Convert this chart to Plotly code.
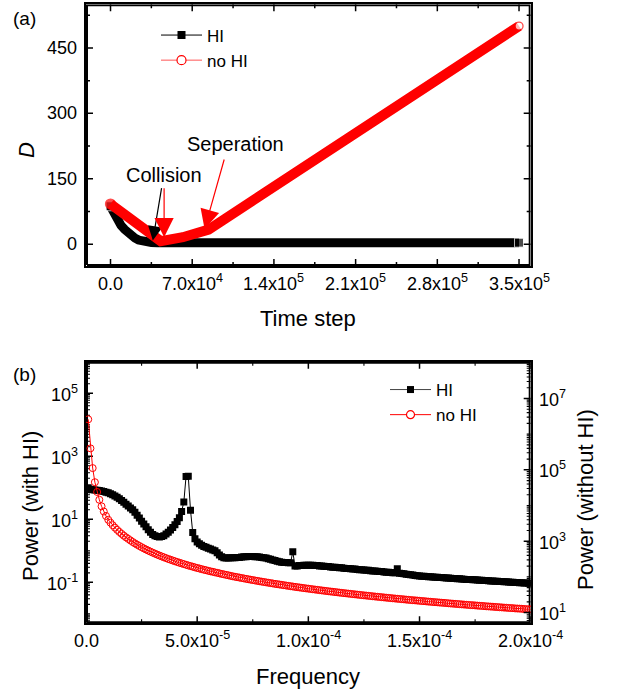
import math
import plotly.graph_objects as go

FONT = "Liberation Sans, Arial, sans-serif"

# ---------------- Panel (a) data ----------------
time_hi = [0, 3000, 6000, 9000, 12000, 15000, 18000, 21000, 24000, 27000, 30000, 35000, 40000, 350000]
d_hi = [87, 70, 54, 43, 34, 26, 19.5, 14, 9.5, 6.5, 4.8, 3.8, 3.5, 3.5]

time_nohi = [0, 43000, 62000, 76000, 84000, 350000]
d_nohi = [92, 7, 16, 24, 33.5, 500]

a_xticks = [0, 70000, 140000, 210000, 280000, 350000]
a_xticktext = ["0.0", "7.0x10<sup>4</sup>", "1.4x10<sup>5</sup>", "2.1x10<sup>5</sup>",
               "2.8x10<sup>5</sup>", "3.5x10<sup>5</sup>"]
a_xminor = [35000, 105000, 175000, 245000, 315000]
a_yticks = [0, 150, 300, 450]
a_yticktext = ["0", "150", "300", "450"]
a_yminor = [75, 225, 375, 525]

# ---------------- Panel (b) data ----------------
freq = [k * 1e-6 for k in range(1, 201)]

power_hi = [
    100, 89.1, 87.1, 85.1, 83.2, 81.3, 79.4, 75.9, 72.4, 69.2,
    64.6, 60.3, 55.0, 50.1, 44.7, 39.8, 34.7, 30.2, 26.3, 22.9,
    20.0, 16.6, 13.5, 11.0, 8.71, 7.08, 5.75, 4.68, 3.89, 3.31,
    3.02, 2.82, 2.75, 2.82, 3.02, 3.39, 3.89, 4.57, 5.50, 6.76,
    8.51, 11.2, 17.8, 35.5, 229, 234, 19.5, 3.80, 2.40, 1.91,
    1.66, 1.51, 1.38, 1.29, 1.20, 1.15, 1.07, 1.00, 0.871, 0.741,
    0.646, 0.603, 0.589, 0.589, 0.603, 0.603, 0.603, 0.617, 0.617, 0.631,
    0.646, 0.646, 0.661, 0.661, 0.661, 0.646, 0.646, 0.631, 0.617, 0.603,
    0.589, 0.562, 0.537, 0.513, 0.490, 0.468, 0.447, 0.437, 0.427, 0.427,
    0.417, 0.417, 0.933, 0.331, 0.331, 0.339, 0.339, 0.347, 0.347, 0.347,
    0.347, 0.347, 0.339, 0.339, 0.331, 0.331, 0.324, 0.316, 0.316, 0.309,
    0.302, 0.302, 0.295, 0.288, 0.288, 0.282, 0.275, 0.275, 0.269, 0.263,
    0.263, 0.257, 0.251, 0.251, 0.245, 0.240, 0.240, 0.234, 0.229, 0.229,
    0.224, 0.219, 0.219, 0.214, 0.209, 0.209, 0.204, 0.200, 0.200, 0.269,
    0.195, 0.191, 0.186, 0.182, 0.178, 0.174, 0.170, 0.166, 0.162, 0.158,
    0.157, 0.155, 0.153, 0.151, 0.150, 0.148, 0.146, 0.145, 0.143, 0.141,
    0.140, 0.138, 0.136, 0.135, 0.133, 0.132, 0.130, 0.129, 0.127, 0.126,
    0.124, 0.123, 0.122, 0.121, 0.120, 0.119, 0.117, 0.116, 0.115, 0.114,
    0.112, 0.111, 0.110, 0.109, 0.108, 0.107, 0.106, 0.105, 0.104, 0.102,
    0.101, 0.100, 0.0995, 0.0986, 0.0977, 0.0968, 0.0959, 0.0951, 0.0942, 0.0933,
]

power_nohi = [
    2.6e6, 4.0e5, 1.12e5, 4.5e4, 2.4e4, 1.45e4, 9.5e3, 6.8e3, 5.1e3, 4.0e3,
    3310, 2800, 2400, 2080, 1820, 1610, 1430, 1280, 1160, 1050,
    952, 870, 798, 736, 680, 630, 586, 546, 510, 478,
    449, 422, 398, 375, 355, 336, 318, 303, 288, 274,
    262, 249, 239, 228, 219, 209, 201, 193, 185, 178,
    172, 165, 159, 154, 148, 143, 139, 134, 130, 126,
    121, 118, 114, 111, 107, 104, 101, 98.4, 95.8, 93.1,
    90.7, 88.2, 85.9, 83.6, 81.6, 79.5, 77.4, 75.6, 73.7, 72.0,
    70.3, 68.6, 67.1, 65.5, 63.9, 62.6, 61.2, 59.8, 58.6, 57.3,
    56.0, 54.9, 53.8, 52.6, 51.6, 50.6, 49.5, 48.6, 47.6, 46.8,
    45.9, 45.0, 44.2, 43.4, 42.6, 41.8, 41.1, 40.3, 39.6, 38.9,
    38.3, 37.6, 37.0, 36.3, 35.7, 35.1, 34.6, 34.0, 33.5, 32.9,
    32.4, 31.9, 31.4, 30.9, 30.4, 30.0, 29.5, 29.1, 28.6, 28.2,
    27.8, 27.4, 27.0, 26.6, 26.2, 25.8, 25.5, 25.1, 24.8, 24.4,
    24.1, 23.8, 23.5, 23.1, 22.8, 22.5, 22.2, 22.0, 21.7, 21.4,
    21.1, 20.9, 20.6, 20.3, 20.1, 19.8, 19.6, 19.4, 19.1, 18.9,
    18.7, 18.5, 18.2, 18.0, 17.8, 17.6, 17.4, 17.2, 17.0, 16.8,
    16.6, 16.4, 16.2, 16.1, 15.9, 15.7, 15.5, 15.4, 15.2, 15.0,
    14.9, 14.7, 14.6, 14.4, 14.3, 14.1, 14.0, 13.8, 13.7, 13.5,
    13.4, 13.3, 13.1, 13.0, 12.9, 12.8, 12.6, 12.5, 12.4, 12.3,
]

b_xticks = [0, 5e-5, 1e-4, 1.5e-4, 2e-4]
b_xticktext = ["0.0", "5.0x10<sup>-5</sup>", "1.0x10<sup>-4</sup>", "1.5x10<sup>-4</sup>", "2.0x10<sup>-4</sup>"]
b_xminor = [2.5e-5, 7.5e-5, 1.25e-4, 1.75e-4]
b_yticks_left = [0.1, 10, 1000, 1e5]
b_yticktext_left = ["10<sup>-1</sup>", "10<sup>1</sup>", "10<sup>3</sup>", "10<sup>5</sup>"]
b_yticks_right = [10, 1000, 1e5, 1e7]
b_yticktext_right = ["10<sup>1</sup>", "10<sup>3</sup>", "10<sup>5</sup>", "10<sup>7</sup>"]

W, H = 618, 693
a_range_x = [-21000, 360000]
a_range_y = [-50, 550]
b_range_x = [0, 2e-4]
b_range_yl = [-2.3, 6.0]   # log10
b_range_yr = [0.7, 8.03]   # log10
XD = [86, 530.7]           # plot area left/right (px)
A_Y = [4.3, 266]           # panel (a) top/bottom (px)
B_Y = [361.7, 623.3]       # panel (b) top/bottom (px)


def px(x):
    return x / W


def py(y):
    return 1 - y / H


def log_minor(lo, hi, majors):
    vals = []
    for e in range(math.floor(lo) - 1, math.ceil(hi) + 1):
        for d in range(1, 10):
            v = d * 10.0 ** e
            lv = math.log10(v)
            if lo <= lv <= hi and not any(abs(v - m) / m < 1e-9 for m in majors):
                vals.append(v)
    return vals


b_yminor_left = log_minor(b_range_yl[0], b_range_yl[1], b_yticks_left)
b_yminor_right = log_minor(b_range_yr[0], b_range_yr[1], b_yticks_right)

fig = go.Figure()

# ---- panel (a) traces ----
n_hi = len(time_hi)
fig.add_trace(go.Scatter(
    x=time_hi, y=d_hi, mode="lines+markers", showlegend=False,
    line=dict(color="black", width=9),
    marker=dict(symbol="square", size=[9] + [0] * (n_hi - 2) + [9], color="black"),
    xaxis="x", yaxis="y"))
n_no = len(time_nohi)
fig.add_trace(go.Scatter(
    x=time_nohi, y=d_nohi, mode="lines+markers", showlegend=False,
    line=dict(color="red", width=10),
    marker=dict(symbol="circle",
                size=[10] + [0] * (n_no - 2) + [8],
                color=["red"] * (n_no - 1) + ["white"],
                line=dict(color="red", width=1.3)),
    xaxis="x", yaxis="y"))
fig.add_trace(go.Scatter(x=[None], y=[None], mode="lines+markers", name="HI",
                         line=dict(color="black", width=1),
                         marker=dict(symbol="square", size=8, color="black"),
                         legend="legend", xaxis="x", yaxis="y"))
fig.add_trace(go.Scatter(x=[None], y=[None], mode="lines+markers", name="no HI",
                         line=dict(color="#ff5555", width=1),
                         marker=dict(symbol="circle", size=9, color="white",
                                     line=dict(color="red", width=1.2)),
                         legend="legend", xaxis="x", yaxis="y"))

# ---- panel (b) traces ----
fig.add_trace(go.Scatter(
    x=freq, y=power_hi, mode="lines+markers", showlegend=False,
    line=dict(color="black", width=1),
    marker=dict(symbol="square", size=7, color="black"),
    xaxis="x2", yaxis="y2"))
fig.add_trace(go.Scatter(
    x=freq, y=power_nohi, mode="lines+markers", showlegend=False,
    line=dict(color="red", width=1),
    marker=dict(symbol="circle-open", size=7, color="red", line=dict(width=1)),
    xaxis="x2", yaxis="y3"))
fig.add_trace(go.Scatter(x=[None], y=[None], mode="lines+markers", name="HI",
                         line=dict(color="#444444", width=1),
                         marker=dict(symbol="square", size=7, color="black"),
                         legend="legend2", xaxis="x2", yaxis="y2"))
fig.add_trace(go.Scatter(x=[None], y=[None], mode="lines+markers", name="no HI",
                         line=dict(color="red", width=1),
                         marker=dict(symbol="circle", size=8, color="white",
                                     line=dict(color="red", width=1.2)),
                         legend="legend2", xaxis="x2", yaxis="y2"))


# ---------------- frames and ticks, drawn on each panel's own axes ----------------
def seg_trace(xs, ys, xa, ya, width):
    fig.add_trace(go.Scatter(x=xs, y=ys, mode="lines+markers", showlegend=False,
                             marker=dict(size=0.1, color="black"),
                             line=dict(color="black", width=width), xaxis=xa, yaxis=ya))


def frame_on(xa, ya, xr, yr, ypix, log_y=False):
    # frame drawn 1 px inside the plotting area so that it is not clipped
    ux = (xr[1] - xr[0]) / (XD[1] - XD[0])
    uy = (yr[1] - yr[0]) / (ypix[1] - ypix[0])
    tf = (lambda r: 10 ** r) if log_y else (lambda r: r)
    x0, x1 = xr[0] + 1 * ux, xr[1] - 1 * ux
    y0, y1 = tf(yr[0] + 1 * uy), tf(yr[1] - 1 * uy)
    seg_trace([x0, x1, x1, x0, x0], [y0, y0, y1, y1, y0], xa, ya, 2)


def ticks_on(xa, ya, xr, yr, ypix, xvals, yvals, length, width, sides, log_y=False):
    ux = (xr[1] - xr[0]) / (XD[1] - XD[0])      # x data units per pixel
    uy = (yr[1] - yr[0]) / (ypix[1] - ypix[0])  # y (range) units per pixel
    tf = (lambda r: 10 ** r) if log_y else (lambda r: r)
    xs, ys = [], []
    for v in xvals:
        if "bottom" in sides:
            xs += [v, v, None]
            ys += [tf(yr[0]), tf(yr[0] + length * uy), None]
        if "top" in sides:
            xs += [v, v, None]
            ys += [tf(yr[1]), tf(yr[1] - length * uy), None]
    for v in yvals:
        if "left" in sides:
            xs += [xr[0], xr[0] + length * ux, None]
            ys += [v, v, None]
        if "right" in sides:
            xs += [xr[1], xr[1] - length * ux, None]
            ys += [v, v, None]
    seg_trace(xs, ys, xa, ya, width)


ALL = ("bottom", "top", "left", "right")
ticks_on("x", "y", a_range_x, a_range_y, A_Y, a_xticks, a_yticks, 7, 1.5, ALL)
ticks_on("x", "y", a_range_x, a_range_y, A_Y, a_xminor, a_yminor, 4, 1.5, ALL)
frame_on("x", "y", a_range_x, a_range_y, A_Y)

ticks_on("x2", "y2", b_range_x, b_range_yl, B_Y, b_xticks, b_yticks_left, 7, 1.5,
         ("bottom", "top", "left"), log_y=True)
ticks_on("x2", "y2", b_range_x, b_range_yl, B_Y, b_xminor, b_yminor_left, 4, 1.1,
         ("bottom", "top", "left"), log_y=True)
ticks_on("x2", "y3", b_range_x, b_range_yr, B_Y, [], b_yticks_right, 7, 1.5, ("right",),
         log_y=True)
ticks_on("x2", "y3", b_range_x, b_range_yr, B_Y, [], b_yminor_right, 4, 1.1, ("right",),
         log_y=True)
frame_on("x2", "y2", b_range_x, b_range_yl, B_Y, log_y=True)

axis_common = dict(showgrid=False, zeroline=False, showline=True, linecolor="black",
                   linewidth=2, ticks="", showticklabels=False, automargin=False)

fig.update_layout(
    width=W, height=H,
    margin=dict(l=0, r=0, t=0, b=0, autoexpand=False),
    paper_bgcolor="white", plot_bgcolor="white",
    font=dict(family=FONT, color="black"),
    xaxis=dict(domain=[px(XD[0]), px(XD[1])], anchor="y", range=a_range_x, mirror=True,
               **axis_common),
    yaxis=dict(domain=[py(A_Y[1]), py(A_Y[0])], anchor="x", range=a_range_y, mirror=True,
               **axis_common),
    xaxis2=dict(domain=[px(XD[0]), px(XD[1])], anchor="y2", range=b_range_x, mirror=True,
                **axis_common),
    yaxis2=dict(domain=[py(B_Y[1]), py(B_Y[0])], anchor="x2", type="log", range=b_range_yl,
                mirror=True, **axis_common),
    yaxis3=dict(overlaying="y2", anchor="x2", side="right", type="log", range=b_range_yr,
                **axis_common),
    legend=dict(x=px(156), y=py(17.5), xanchor="left", yanchor="top",
                bgcolor="rgba(0,0,0,0)", font=dict(family=FONT, size=17, color="black"),
                itemwidth=41, tracegroupgap=0),
    legend2=dict(x=px(385), y=py(372), xanchor="left", yanchor="top",
                 bgcolor="rgba(0,0,0,0)", font=dict(family=FONT, size=17, color="black"),
                 itemwidth=41, tracegroupgap=0),
)


def lin_frac(v, rng):
    return (v - rng[0]) / (rng[1] - rng[0])


def log_frac(v, rng):
    return (math.log10(v) - rng[0]) / (rng[1] - rng[0])


# ---------------- text ----------------
ann = []
TICKFONT = dict(family=FONT, size=18, color="black")


def paper_text(text, x, y, size, angle=0):
    return dict(text=text, x=px(x), y=py(y), xref="paper", yref="paper",
                xanchor="center", yanchor="middle", showarrow=False, textangle=angle,
                font=dict(family=FONT, size=size, color="black"))


for v, t in zip(a_xticks, a_xticktext):
    ann.append(dict(text=t, x=v, xref="x", y=py(295), yref="paper", xanchor="center",
                    yanchor="bottom", showarrow=False, font=TICKFONT, borderpad=0))
for v, t in zip(a_yticks, a_yticktext):
    ann.append(dict(text=t, x=px(78), xref="paper", y=lin_frac(v, a_range_y), yref="y domain",
                    xanchor="right", yanchor="middle", showarrow=False, font=TICKFONT,
                    borderpad=0))
for v, t in zip(b_xticks, b_xticktext):
    ann.append(dict(text=t, x=v, xref="x2", y=py(652), yref="paper", xanchor="center",
                    yanchor="bottom", showarrow=False, font=TICKFONT, borderpad=0))
for v, t in zip(b_yticks_left, b_yticktext_left):
    ann.append(dict(text=t, x=px(79), xref="paper", y=log_frac(v, b_range_yl), yref="y2 domain",
                    xanchor="right", yanchor="middle", showarrow=False, font=TICKFONT,
                    borderpad=0))
for v, t in zip(b_yticks_right, b_yticktext_right):
    ann.append(dict(text=t, x=px(538), xref="paper", y=log_frac(v, b_range_yr), yref="y2 domain",
                    xanchor="left", yanchor="middle", showarrow=False, font=TICKFONT,
                    borderpad=0))

ann.append(paper_text("Time step", 308, 318, 22))
ann.append(paper_text("<i>D</i>", 26, 150, 22, -90))
ann.append(paper_text("(a)", 24.5, 18.5, 19))
ann.append(paper_text("Frequency", 308, 676, 22))
ann.append(paper_text("Power (with HI)", 30, 506, 22, -90))
ann.append(paper_text("Power (without HI)", 585, 500, 22, -90))
ann.append(paper_text("(b)", 24.5, 374, 19))

ann.append(dict(text="Collision", x=45500, y=157.6, xref="x", yref="y",
                xanchor="center", yanchor="middle",
                showarrow=False, font=dict(family=FONT, size=20, color="black")))
ann.append(dict(text="Seperation", x=106760, y=229.7, xref="x", yref="y",
                xanchor="center", yanchor="middle",
                showarrow=False, font=dict(family=FONT, size=20, color="black")))
ann.append(dict(text="", x=36240, y=8.2, ax=43950, ay=131.9, xref="x", yref="y",
                axref="x", ayref="y", showarrow=True, arrowhead=2, arrowsize=2.4,
                arrowwidth=1.2, arrowcolor="black"))
ann.append(dict(text="", x=45920, y=16.0, ax=45920, ay=131.9, xref="x", yref="y",
                axref="x", ayref="y", showarrow=True, arrowhead=2, arrowsize=3.2,
                arrowwidth=1.2, arrowcolor="red"))
ann.append(dict(text="", x=80620, y=35, ax=97760, ay=197.6, xref="x", yref="y",
                axref="x", ayref="y", showarrow=True, arrowhead=2, arrowsize=3.2,
                arrowwidth=1.2, arrowcolor="red"))

fig.update_layout(annotations=ann)

fig.write_html("out.html")
